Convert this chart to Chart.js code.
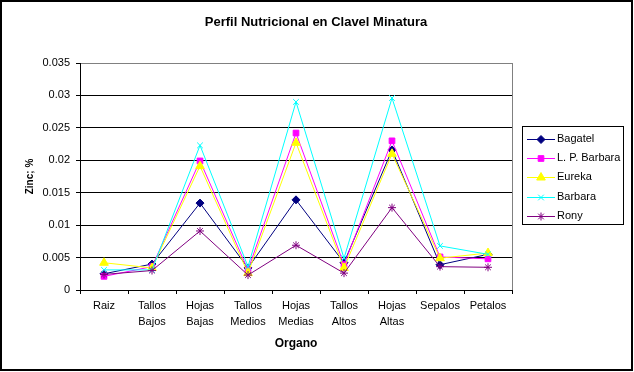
<!DOCTYPE html>
<html>
<head>
<meta charset="utf-8">
<script src="https://cdn.jsdelivr.net/npm/chart.js@4.4.0/dist/chart.umd.min.js"></script>
<style>
  body { margin: 0; background: #fff; }
  #box { width: 634px; height: 372px; }
</style>
</head>
<body>
<div id="box"><canvas id="myChart" width="634" height="372"></canvas></div>
<script>
'use strict';
let organos = [['Raiz'], ['Tallos', 'Bajos'], ['Hojas', 'Bajas'], ['Tallos', 'Medios'], ['Hojas', 'Medias'],
  ['Tallos', 'Altos'], ['Hojas', 'Altas'], ['Sepalos'], ['Petalos']];
let bagatel = [0.0025, 0.0040, 0.0134, 0.0034, 0.0139, 0.0042, 0.0216, 0.0039, 0.0055];
let lpBarbara = [0.0021, 0.0036, 0.0199, 0.0031, 0.0242, 0.0039, 0.0230, 0.0051, 0.0048];
let eureka = [0.0042, 0.0034, 0.0191, 0.0026, 0.0227, 0.0034, 0.0210, 0.0049, 0.0057];
let barbara = [0.0031, 0.0031, 0.0223, 0.0036, 0.0290, 0.0049, 0.0296, 0.0068, 0.0055];
let rony = [0.0024, 0.0030, 0.0091, 0.0023, 0.0069, 0.0026, 0.0127, 0.0036, 0.0035];
let yTicks = [0, 0.005, 0.01, 0.015, 0.02, 0.025, 0.03, 0.035];
let titulo = 'Perfil Nutricional en Clavel Minatura';

let fnt = 'Liberation Sans, Arial, sans-serif';

function serie(label, data, color, style, radius, order) {
  return {
    label: label, data: data, borderColor: color, backgroundColor: color,
    borderWidth: 1, pointStyle: style, pointRadius: radius, pointHoverRadius: radius,
    pointBorderWidth: 1, tension: 0, order: order
  };
}

let extras = {
  id: 'extras',
  beforeDatasetsDraw(chart) {
    let a = chart.chartArea;
    let c = chart.ctx;
    c.save();
    c.strokeStyle = '#808080';
    c.lineWidth = 1;
    c.beginPath();
    c.moveTo(a.right + 0.5, a.top);
    c.lineTo(a.right + 0.5, a.bottom);
    c.stroke();
    c.restore();
  },
  afterDraw(chart) {
    let c = chart.ctx;
    c.save();
    c.strokeStyle = '#000';
    c.lineWidth = 2;
    c.strokeRect(1, 1, 631, 369);
    // title
    c.fillStyle = '#000';
    c.font = 'bold 13px ' + fnt;
    c.textAlign = 'center';
    c.textBaseline = 'middle';
    c.fillText(titulo, 316, 22);
    // legend
    c.textAlign = 'left';
    c.lineWidth = 1;
    c.strokeRect(522.5, 126.5, 101, 98);
    c.font = '11px ' + fnt;
    chart.data.datasets.forEach(function (ds, i) {
      let y = 139 + i * 19.2;
      c.strokeStyle = ds.borderColor;
      c.fillStyle = ds.backgroundColor;
      c.beginPath();
      c.moveTo(527, Math.round(y) + 0.5);
      c.lineTo(555, Math.round(y) + 0.5);
      c.stroke();
      Chart.helpers.drawPoint(c, {
        pointStyle: ds.pointStyle, radius: ds.pointRadius, rotation: 0, borderWidth: 1
      }, 541, Math.round(y) + 0.5);
      c.fillStyle = '#000';
      c.fillText(ds.label, 557, y);
    });
    c.restore();
  }
};

let ctx = document.getElementById('myChart').getContext('2d');
let myChart = new Chart(ctx, {
  type: 'line',
  data: {
    labels: organos,
    datasets: [
      serie('Bagatel', bagatel, '#000080', 'rectRot', 4, 4),
      serie('L. P. Barbara', lpBarbara, '#FF00FF', 'rect', 4, 3),
      serie('Eureka', eureka, '#FFFF00', 'triangle', 5, 2),
      serie('Barbara', barbara, '#00FFFF', 'crossRot', 4, 1),
      serie('Rony', rony, '#800080', 'star', 4, 0)
    ]
  },
  options: {
    responsive: false,
    animation: false,
    layout: { padding: { left: 0, top: 63, right: 122, bottom: 0 } },
    plugins: {
      legend: { display: false },
      tooltip: { enabled: false },
      title: { display: false }
    },
    scales: {
      x: {
        offset: true,
        grid: { offset: true, drawOnChartArea: false, tickLength: 4, color: '#000' },
        border: { color: '#000' },
        ticks: { color: '#000', font: { family: fnt, size: 11, lineHeight: 1.45 }, padding: 4, maxRotation: 0, autoSkip: false },
        title: { display: true, text: 'Organo', color: '#000', font: { family: fnt, size: 12, weight: 'bold' }, padding: { top: 0, bottom: 21 } },
        afterFit(s) { s.height = 82; }
      },
      y: {
        min: 0, max: 0.035,
        afterBuildTicks(s) { s.ticks = yTicks.map(v => ({ value: v })); },
        grid: {
          tickLength: 4, tickColor: '#000',
          color: c => (c.tick && c.tick.value === 0.035 ? '#808080' : '#000')
        },
        border: { color: '#000' },
        ticks: { color: '#000', font: { family: fnt, size: 11 }, padding: 6, callback: v => String(+v.toFixed(3)) },
        title: { display: true, text: 'Zinc; %', color: '#000', font: { family: fnt, size: 10, weight: 'bold' }, padding: { top: 24, bottom: 0 } },
        afterFit(s) { s.width = 80; }
      }
    }
  },
  plugins: [extras]
});
</script>
</body>
</html>
